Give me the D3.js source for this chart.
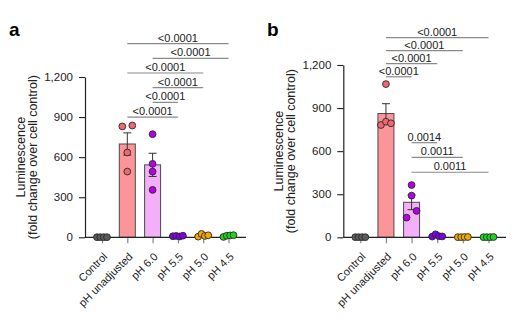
<!DOCTYPE html>
<html>
<head>
<meta charset="utf-8">
<script src="https://cdn.jsdelivr.net/npm/d3@7"></script>
<style>
  html, body { margin: 0; padding: 0; background: #fff; }
  svg { display: block; font-family: "Liberation Sans", Arial, Helvetica, sans-serif; }
</style>
</head>
<body>
<svg id="chart" width="519" height="325"></svg>
<script>
// Treatment groups (shared by both panels)
const categories = ["Control", "pH unadjusted", "pH 6.0", "pH 5.5", "pH 5.0", "pH 4.5"];

// Per-replicate luminescence, fold change over cell control
const valuesA = [
  [1, 1, 1, 1],
  [830, 837, 635, 492],
  [772, 550, 492, 355],
  [8, 10, 6, 12],
  [5, 25, 10, 15],
  [3, 12, 14, 16]
];
const valuesB = [
  [1, 1, 1, 1],
  [1067, 782, 805, 794],
  [364, 290, 137, 184],
  [5, 21, 8, 6],
  [1, 1, 2, 2],
  [1, 1, 1, 2]
];

// Pairwise comparisons: [group i, group j, P value], listed bottom-up within each stack
const comparisonsA = [
  [1, 3, "<0.0001"],
  [2, 3, "<0.0001"],
  [2, 4, "<0.0001"],
  [1, 4, "<0.0001"],
  [2, 5, "<0.0001"],
  [1, 5, "<0.0001"]
];
const comparisonsB1 = [
  [1, 2, "<0.0001"],
  [1, 3, "<0.0001"],
  [1, 4, "<0.0001"],
  [1, 5, "<0.0001"]
];
const comparisonsB2 = [
  [2, 5, "0.0011"],
  [2, 4, "0.0011"],
  [2, 3, "0.0014"]
];

const yTicks = [0, 300, 600, 900, 1200];
const yLabelLines = ["Luminescence", "(fold change over cell control)"];

const barFill = ["#9a9a9a", "#fb9599", "#f3aff7", "#a86cf0", "#f6c766", "#7fe37f"];
const dotFill = ["#5b5b5b", "#f2676f", "#b600e8", "#7d00e6", "#f2a800", "#1fd41f"];

const svg = d3.select("#chart");

function drawPanel(cfg) {
  const g = svg.append("g");
  const y = d3.scaleLinear().domain([0, 1200]).range([cfg.y0, cfg.y1]);
  const x = d3.scalePoint().domain(categories).range([cfg.axisX + 17, cfg.axisEnd - 17.5]);

  // panel letter
  svg.append("text").attr("x", cfg.letterX).attr("y", 36)
    .attr("font-size", 19).attr("font-weight", "bold").attr("fill", "#000")
    .text(cfg.letter);

  // summary statistics
  const stats = cfg.values.map(v => {
    const m = d3.mean(v);
    const sem = d3.deviation(v) / Math.sqrt(v.length);
    return { mean: m, sem: sem };
  });

  const bw = 16;
  // bars
  g.selectAll("rect.bar").data(stats).join("rect")
    .attr("class", "bar")
    .attr("x", (d, i) => x(categories[i]) - bw / 2)
    .attr("width", bw)
    .attr("y", d => y(d.mean))
    .attr("height", d => Math.max(0, y(0) - y(d.mean)))
    .attr("fill", (d, i) => barFill[i])
    .attr("stroke", "#4a4a4a").attr("stroke-width", 1);

  // error bars (mean ± s.e.m.)
  const capW = 8;
  stats.forEach((d, i) => {
    const cx = x(categories[i]);
    const lo = y(d.mean - d.sem), hi = y(d.mean + d.sem);
    const eg = g.append("g").attr("stroke", "#333").attr("stroke-width", 1).attr("fill", "none");
    eg.append("line").attr("x1", cx).attr("x2", cx).attr("y1", lo).attr("y2", hi);
    eg.append("line").attr("x1", cx - capW / 2).attr("x2", cx + capW / 2).attr("y1", hi).attr("y2", hi);
    eg.append("line").attr("x1", cx - capW / 2).attr("x2", cx + capW / 2).attr("y1", lo).attr("y2", lo);
  });

  // axes
  const yAxis = d3.axisLeft(y).tickValues(yTicks).tickFormat(d3.format(","))
    .tickSize(6).tickSizeOuter(0).tickPadding(6);
  const ya = g.append("g").attr("transform", `translate(${cfg.axisX},0)`).call(yAxis);
  ya.select(".domain").attr("stroke", "#222").attr("stroke-width", 1.2);
  ya.selectAll(".tick line").attr("stroke", "#222").attr("stroke-width", 1.1);
  ya.selectAll(".tick text").attr("font-size", 11.5).attr("fill", "#222")
    .attr("font-family", "Liberation Sans, Arial, sans-serif");

  const xAxis = d3.axisBottom(x).tickSize(6).tickSizeOuter(0).tickFormat("");
  const xa = g.append("g").attr("transform", `translate(0,${cfg.y0})`).call(xAxis);
  xa.select(".domain").remove();
  xa.selectAll(".tick line").attr("stroke", "#888").attr("stroke-width", 1.2);
  g.append("line").attr("x1", cfg.axisX).attr("x2", cfg.axisEnd)
    .attr("y1", cfg.y0).attr("y2", cfg.y0).attr("stroke", "#222").attr("stroke-width", 1.2);

  // category labels
  g.selectAll("text.cat").data(categories).join("text")
    .attr("class", "cat")
    .attr("transform", d => `translate(${x(d) + 6},${cfg.y0 + 20}) rotate(-45)`)
    .attr("text-anchor", "end")
    .attr("font-size", 11).attr("fill", "#222")
    .text(d => d);

  // y-axis title
  const ym = (cfg.y0 + cfg.y1) / 2;
  yLabelLines.forEach((t, k) => {
    g.append("text")
      .attr("transform", `translate(${cfg.axisX - 60.5 + k * 12},${ym}) rotate(-90)`)
      .attr("text-anchor", "middle").attr("font-size", 12.5).attr("fill", "#222")
      .text(t);
  });

  // replicate points: overlapping values are spread sideways
  const r = 3.4;
  cfg.values.forEach((vals, i) => {
    const cx = x(categories[i]);
    const pts = vals.map((v, k) => ({ v, k, py: y(v), dx: 0 }));
    const sorted = pts.slice().sort((a, b) => a.py - b.py);
    const clusters = [];
    sorted.forEach(p => {
      const last = clusters[clusters.length - 1];
      if (last && p.py - last[last.length - 1].py < 7.2) last.push(p);
      else clusters.push([p]);
    });
    clusters.forEach(c => {
      if (c.length < 2) return;
      c.sort((a, b) => a.k - b.k);
      const w = Math.min((c.length - 1) * 10, 10);
      c.forEach((p, j) => { p.dx = -w / 2 + j * w / (c.length - 1); });
    });
    g.selectAll(null).data(pts).join("circle")
      .attr("cx", p => cx + p.dx)
      .attr("cy", p => p.py)
      .attr("r", r)
      .attr("fill", dotFill[i])
      .attr("stroke", "#2a2a2a").attr("stroke-width", 0.9);
  });

  // significance brackets
  cfg.stacks.forEach(st => {
    st.comps.forEach((c, k) => {
      const yy = y(st.base + k * st.step);
      const x1 = x(categories[c[0]]), x2 = x(categories[c[1]]);
      g.append("line").attr("x1", x1).attr("x2", x2).attr("y1", yy).attr("y2", yy)
        .attr("stroke", "#8a8a8a").attr("stroke-width", 1.2);
      g.append("text").attr("x", (x1 + x2) / 2).attr("y", yy - 2)
        .attr("text-anchor", "middle").attr("font-size", 11).attr("fill", "#222")
        .text(c[2]);
    });
  });
}

drawPanel({
  letter: "a", letterX: 9,
  values: valuesA,
  axisX: 85, axisEnd: 246, y0: 237.3, y1: 77,
  stacks: [{ comps: comparisonsA, base: 900, step: 110 }]
});

drawPanel({
  letter: "b", letterX: 267,
  values: valuesB,
  axisX: 343.3, axisEnd: 506, y0: 237.3, y1: 65,
  stacks: [
    { comps: comparisonsB1, base: 1118, step: 91 },
    { comps: comparisonsB2, base: 453, step: 103 }
  ]
});
</script>
</body>
</html>
